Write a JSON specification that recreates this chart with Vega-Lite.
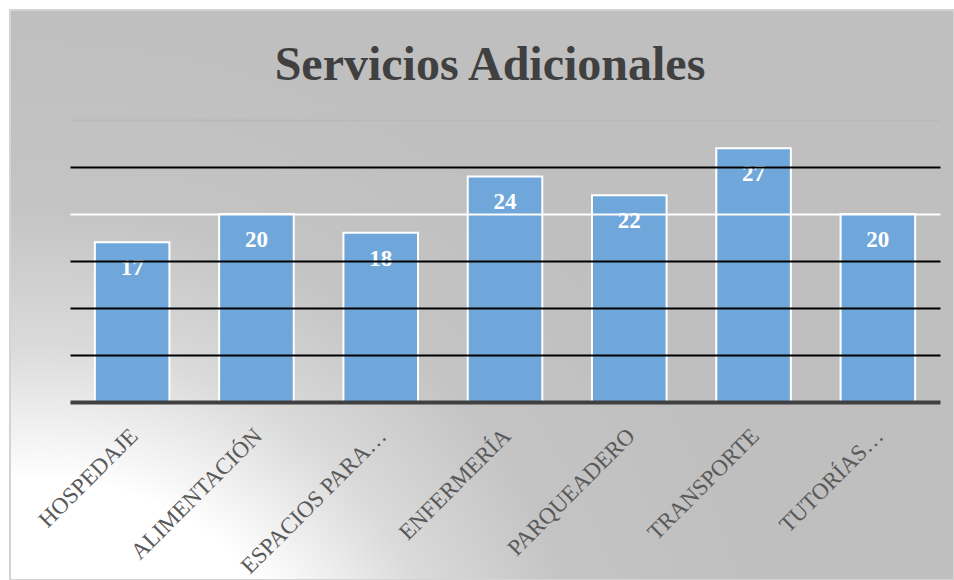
{
  "$schema": "https://vega.github.io/schema/vega-lite/v6.json",
  "width": 944,
  "height": 570,
  "autosize": {"type": "none"},
  "padding": {"left": 10, "top": 10, "right": 0, "bottom": 0},
  "background": "#ffffff",
  "view": {
    "fill": {
      "gradient": "radial",
      "x1": 0.03, "y1": 1.0, "r1": 0,
      "x2": 0.03, "y2": 1.0, "r2": 0.8,
      "stops": [
        {"offset": 0, "color": "#ffffff"},
        {"offset": 0.38, "color": "#ffffff"},
        {"offset": 0.56, "color": "#dadada"},
        {"offset": 0.74, "color": "#c4c4c4"},
        {"offset": 1, "color": "#bfbfbf"}
      ]
    },
    "stroke": "#d4d4d4",
    "strokeWidth": 2
  },
  "title": {
    "text": "Servicios Adicionales",
    "font": "Liberation Serif",
    "fontSize": 48,
    "fontWeight": "bold",
    "color": "#404040",
    "anchor": "middle",
    "frame": "group",
    "baseline": "bottom",
    "offset": -128,
    "dx": 8
  },
  "data": {
    "values": [
      {"servicio": "HOSPEDAJE", "valor": 17},
      {"servicio": "ALIMENTACIÓN", "valor": 20},
      {"servicio": "ESPACIOS PARA…", "valor": 18},
      {"servicio": "ENFERMERÍA", "valor": 24},
      {"servicio": "PARQUEADERO", "valor": 22},
      {"servicio": "TRANSPORTE", "valor": 27},
      {"servicio": "TUTORÍAS…", "valor": 20}
    ]
  },
  "layer": [
    {
      "mark": {"type": "bar", "fill": "#70a7da", "stroke": "#ffffff", "strokeWidth": 2},
      "encoding": {
        "x": {
          "field": "servicio",
          "type": "nominal",
          "sort": null,
          "scale": {"range": [60, 930], "paddingInner": 0.4, "paddingOuter": 0.2},
          "axis": {
            "title": null,
            "orient": "bottom",
            "offset": -178,
            "domainColor": "#404040",
            "domainWidth": 4,
            "ticks": false,
            "grid": false,
            "labelAngle": -45,
            "labelAlign": "right",
            "labelBaseline": "middle",
            "labelFont": "Liberation Serif",
            "labelFontSize": 23,
            "labelColor": "#595959",
            "labelPadding": 30,
            "labelOffset": 2,
            "labelOverlap": false,
            "labelLimit": 400,
            "zindex": 1
          }
        },
        "y": {
          "field": "valor",
          "type": "quantitative",
          "scale": {"domain": [0, 30], "range": [392, 110], "nice": false},
          "axis": {
            "title": null,
            "domain": false,
            "ticks": false,
            "labels": false,
            "values": [5, 10, 15, 20, 25, 30],
            "grid": true,
            "gridColor": {
              "condition": [
                {"test": "datum.value === 20", "value": "#ffffff"},
                {"test": "datum.value === 30", "value": "#b9b9b9"}
              ],
              "value": "#000000"
            },
            "gridWidth": 2,
            "zindex": 1
          }
        }
      }
    },
    {
      "mark": {
        "type": "text",
        "font": "Liberation Serif",
        "fontSize": 23,
        "fontWeight": "bold",
        "color": "#ffffff",
        "baseline": "middle",
        "dy": 26
      },
      "encoding": {
        "x": {"field": "servicio", "type": "nominal", "sort": null},
        "y": {"field": "valor", "type": "quantitative"},
        "text": {"field": "valor", "type": "quantitative"}
      }
    }
  ]
}
